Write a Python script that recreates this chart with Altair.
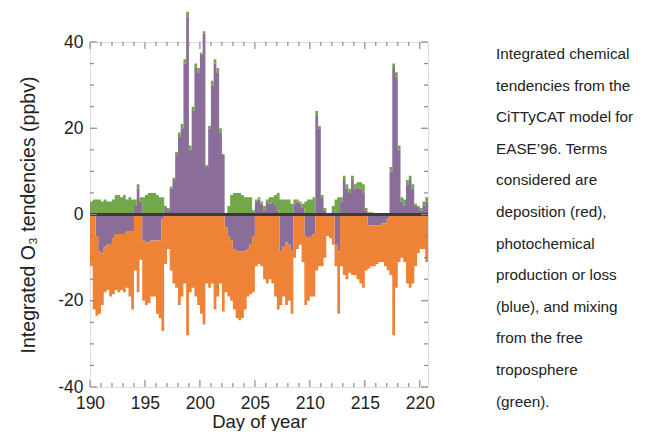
import altair as alt
import pandas as pd

# ---- data, 0.25-day steps from day 190.00 to 220.75 ----
days = [190 + 0.25 * i for i in range(124)]

# photochemical production / loss (purple)
photo = [0, 0, -5, -8.5, -9, -7.5, -7, -7, -5.5, -4.5, -4.5, -4.5, -4.5, -4, -4, -4,
         2, 6, 3, -6,
         -6.5, -6.5, -6, -6,
         -6, -6, -1, 1.5,
         1, 6, 8, 14,
         18, 20, 35, 46,
         15, 24, 34, 33,
         37, 42, 11, 20,
         30, 35, 33, 19,
         14, -3, -5, -6,
         -8, -8.5, -8.5, -8.5,
         -8.5, -8, -7, -5,
         3, 3.5, 2.5, 1,
         3, 2.5, 3, 2,
         1, -8.5, -7.5, -6.5,
         -7, -8.5, 2.5, 3,
         2.5, 1.5, -5, -5.5,
         -5, -4.5, 23, 20,
         4, 1, -0.5, -0.5,
         1, -7, -8.5, 3,
         8, 6, 5, 8,
         6, 6.5, 6, 5,
         1, -2.5, -2.5, -2.5,
         -2.5, -2.5, -2, -2,
         -1, 10, 34, 32,
         15, 3, 2, 7,
         8, 6, 2, 1.5,
         1, 2, 3, 2.5]

# mixing from the free troposphere (green)
mix = [3, 3.5, 3.5, 3.5, 3, 3.5, 3, 3, 3.5, 4.5, 4.5, 4, 4.5, 3.5, 4, 3.5,
       1.5, 1, 1, 4,
       4.5, 5, 5, 5,
       4.5, 4, 4, 0.5,
       0.5, 0.5, 0.5, 0.5,
       1, 1, 1, 1,
       1, 1, 1, 1,
       0.5, 0.5, 0.5, 0.5,
       1, 1, 1, 1,
       0, 0, 2, 4.5,
       5, 5, 5, 4.5,
       4, 4, 4, 1,
       0.5, 0.5, 0.5, 1,
       0.5, 1.5, 1, 2.5,
       4, 3.5, 3.5, 3.5,
       3.5, 2.5, 1, 0.5,
       0.5, 1, 3, 3.5,
       3.5, 4, 1, 0.5,
       0.5, 0.5, 0, 0,
       1, 3.5, 4, 1,
       1, 1, 1, 1,
       1, 1, 1.5, 2,
       0.5, 0.5, 0.5, 0.3,
       0.3, 0.3, 0.3, 0.3,
       0.3, 1, 1, 1,
       1, 1, 1.5, 1,
       1, 1, 0.5, 0.5,
       0.5, 1, 1, 1.5]

# deposition (red/orange)
dep = [-12, -22, -18.5, -14.5, -12, -10.5, -10.5, -12, -13, -13, -13.5, -13, -13.5, -13, -15, -18,
       -13, -18, -10.5, -14,
       -14.5, -14, -13, -13,
       -17, -18, -26, -11.5,
       -8, -13, -16, -17,
       -21, -19, -16, -28,
       -18, -17, -19, -21,
       -23, -25.5, -16, -17,
       -16, -22, -19, -16,
       -22.5, -15, -14, -14,
       -14, -15.5, -16, -15.5,
       -13.5, -11, -11.5, -13,
       -12, -11.5, -12, -15,
       -16, -15, -16, -19,
       -22, -12.5, -11.5, -14.5,
       -13, -14.5, -10, -8,
       -7, -11, -16, -14.5,
       -14, -14.5, -13, -12,
       -12, -10, -4.5, -5,
       -7, -5, -14.5, -12,
       -14, -15, -13.5, -14,
       -14, -15, -16, -17,
       -13, -10, -9.5, -9.5,
       -9, -8.5, -9, -10,
       -12, -14, -28, -17,
       -11, -10, -11, -16,
       -17, -16, -12, -9,
       -8, -8, -11, -13]

terms = ["photo", "mix", "dep"]
term_colors = ["#8a6e99", "#72a84b", "#ee8236"]

x_major = [190, 195, 200, 205, 210, 215, 220]
x_minor = [d for d in range(191, 221) if d % 5 != 0]
y_major = [-40, -20, 0, 20, 40]
y_minor = [-35, -30, -25, -15, -10, -5, 5, 10, 15, 25, 30, 35]

caption_lines = ["Integrated chemical", "tendencies from the", "CiTTyCAT model for",
                 "EASE\u201996. Terms", "considered are", "deposition (red),",
                 "photochemical", "production or loss", "(blue), and mixing",
                 "from the free", "troposphere", "(green)."]

rows = []
for rank, (name, vals) in enumerate(zip(terms, [photo, mix, dep])):
    for d, v in zip(days, vals):
        rows.append({"day": d, "value": v, "term": name, "rank": rank})
df = pd.DataFrame(rows)

W, H = 338, 345
FONT = "Liberation Sans"
FRAME = "#8c8c8c"

xscale = alt.Scale(domain=[190, 220.75], nice=False, zero=False)
yscale = alt.Scale(domain=[-40, 40], nice=False)

x_axis = alt.Axis(values=x_major, ticks=False, domain=False, grid=False, labelFlush=False,
                  labelFontSize=17.5, labelPadding=7, labelFont=FONT, labelColor="#222",
                  title="Day of year", titleFontSize=18.5, titleFont=FONT,
                  titleFontWeight="normal", titleColor="#222", titlePadding=1)
y_axis = alt.Axis(values=y_major, ticks=False, domain=False, grid=False, labelFlush=False,
                  labelExpr="'' + datum.value",
                  labelFontSize=17.5, labelPadding=7, labelFont=FONT, labelColor="#222",
                  title="Integrated O\u2083 tendencies (ppbv)", titleFontSize=19.5,
                  titleFont=FONT, titleFontWeight="normal", titleColor="#222",
                  titlePadding=19)

areas = alt.Chart(df).mark_area(interpolate="step-after", clip=False).encode(
    x=alt.X("day:Q", scale=xscale, axis=x_axis),
    y=alt.Y("value:Q", stack="zero", scale=yscale, axis=y_axis),
    color=alt.Color("term:N", scale=alt.Scale(domain=terms, range=term_colors), legend=None),
    order=alt.Order("rank:Q"),
)

zero_line = alt.Chart(pd.DataFrame({"y": [0]})).mark_rule(color="#3a3a3a", strokeWidth=3).encode(
    y=alt.Y("y:Q", scale=yscale, axis=y_axis))


def xticks(vals, length):
    src = alt.Chart(pd.DataFrame({"t": vals}))
    top = src.mark_rule(color=FRAME, strokeWidth=1.2).encode(
        x=alt.X("t:Q", scale=xscale, axis=x_axis), y=alt.value(0), y2=alt.value(length))
    bot = src.mark_rule(color=FRAME, strokeWidth=1.2).encode(
        x=alt.X("t:Q", scale=xscale, axis=x_axis), y=alt.value(H), y2=alt.value(H - length))
    return [top, bot]


def yticks(vals, length):
    src = alt.Chart(pd.DataFrame({"t": vals}))
    left = src.mark_rule(color=FRAME, strokeWidth=1.2).encode(
        y=alt.Y("t:Q", scale=yscale, axis=y_axis), x=alt.value(0), x2=alt.value(length))
    right = src.mark_rule(color=FRAME, strokeWidth=1.2).encode(
        y=alt.Y("t:Q", scale=yscale, axis=y_axis), x=alt.value(W), x2=alt.value(W - length))
    return [left, right]


caption = alt.Chart(pd.DataFrame({"a": [0]})).mark_text(
    text=caption_lines, align="left", baseline="top", lineHeight=31.6,
    fontSize=15.3, font=FONT, color="#222").encode(x=alt.value(406), y=alt.value(5))

layers = [areas, zero_line] + xticks(x_major, 7) + xticks(x_minor, 4) + \
    yticks(y_major, 7) + yticks(y_minor, 4) + [caption]

chart = alt.layer(*layers).properties(
    width=W, height=H,
    autosize=alt.AutoSizeParams(type="none"),
    padding={"left": 82, "top": 34, "right": 218, "bottom": 44},
).configure_view(stroke=FRAME, strokeWidth=1.5).configure(background="white")

chart.save("out.html", embed_options={"renderer": "svg", "actions": False})
